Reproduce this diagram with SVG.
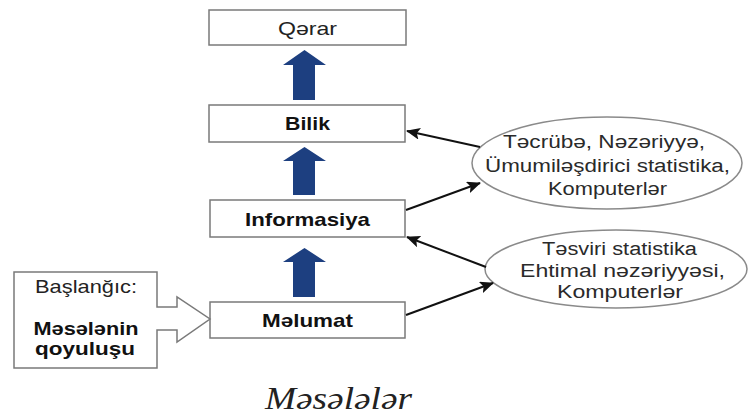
<svg xmlns="http://www.w3.org/2000/svg" width="749" height="417" viewBox="0 0 749 417">
<defs>
<style>
.box{fill:#fff;stroke:#7a7a7a;stroke-width:1.5}
.ell{fill:#fff;stroke:#8a8a8a;stroke-width:1.5}
.up{fill:#1d3f80}
.lbl{font-family:"Liberation Sans",Arial,sans-serif;font-size:19px;fill:#222;text-anchor:middle}
.b{font-weight:bold;fill:#111}
.t{font-family:"Liberation Sans",Arial,sans-serif;font-size:18px;fill:#2a2a2a;text-anchor:middle}
.conn{stroke:#111;stroke-width:2;fill:none;marker-end:url(#ah)}
</style>
<marker id="ah" markerUnits="userSpaceOnUse" markerWidth="14" markerHeight="12" refX="13" refY="6" orient="auto">
<path d="M0,0 L14,6 L0,12 L3,6 Z" fill="#111"/>
</marker>
</defs>
<g id="qerar">
<rect class="box" x="209" y="10" width="197" height="35"/>
<text class="lbl" x="307.5" y="35" textLength="59" lengthAdjust="spacingAndGlyphs">Qərar</text>
</g>
<g id="bilik">
<rect class="box" x="209" y="105" width="196" height="37"/>
<text class="lbl b" x="307.5" y="130" textLength="45" lengthAdjust="spacingAndGlyphs">Bilik</text>
</g>
<g id="informasiya">
<rect class="box" x="210" y="200" width="195" height="37"/>
<text class="lbl b" x="307.5" y="226" textLength="125" lengthAdjust="spacingAndGlyphs">Informasiya</text>
</g>
<g id="melumat">
<rect class="box" x="210" y="302" width="195" height="36"/>
<text class="lbl b" x="307.5" y="327" textLength="91" lengthAdjust="spacingAndGlyphs">Məlumat</text>
</g>
<g id="up-arrows">
<path class="up" d="M304.5,50 L326,65 L315,65 L315,100 L293,100 L293,65 L283,65 Z"/>
<path class="up" d="M304.5,147 L326,161 L315,161 L315,195 L293,195 L293,161 L283,161 Z"/>
<path class="up" d="M304.5,248 L326,262 L315,262 L315,297 L293,297 L293,262 L283,262 Z"/>
</g>
<g id="baslangic">
<path class="box" d="M14,272 L157,272 L157,307 L177,307 L177,297 L210,319 L177,342 L177,330 L157,330 L157,368 L14,368 Z"/>
<text class="lbl" x="86" y="293" textLength="102" lengthAdjust="spacingAndGlyphs">Başlanğıc:</text>
<text class="lbl b" x="86" y="335" textLength="105" lengthAdjust="spacingAndGlyphs">Məsələnin</text>
<text class="lbl b" x="85" y="355" textLength="100" lengthAdjust="spacingAndGlyphs">qoyuluşu</text>
</g>
<g id="ellipse1">
<ellipse class="ell" cx="607" cy="163" rx="135" ry="46"/>
<text class="t" x="604" y="148" textLength="202" lengthAdjust="spacingAndGlyphs">Təcrübə, Nəzəriyyə,</text>
<text class="t" x="607.5" y="172" textLength="245" lengthAdjust="spacingAndGlyphs">Ümumiləşdirici statistika,</text>
<text class="t" x="607.5" y="195" textLength="119" lengthAdjust="spacingAndGlyphs">Komputerlər</text>
</g>
<g id="ellipse2">
<ellipse class="ell" cx="616" cy="269" rx="131" ry="39"/>
<text class="t" x="619.5" y="255" textLength="155" lengthAdjust="spacingAndGlyphs">Təsviri statistika</text>
<text class="t" x="622.5" y="277" textLength="205" lengthAdjust="spacingAndGlyphs">Ehtimal nəzəriyyəsi,</text>
<text class="t" x="620" y="298" textLength="126" lengthAdjust="spacingAndGlyphs">Komputerlər</text>
</g>
<g id="connectors">
<line class="conn" x1="480" y1="147" x2="407" y2="131"/>
<line class="conn" x1="406" y1="210" x2="480" y2="183"/>
<line class="conn" x1="486" y1="267" x2="407" y2="237"/>
<line class="conn" x1="406" y1="315" x2="493" y2="283"/>
</g>
<text x="338.5" y="409" font-family="Liberation Serif,'Times New Roman',serif" font-style="italic" font-size="31" fill="#222" text-anchor="middle" textLength="147" lengthAdjust="spacingAndGlyphs">Məsələlər</text>
</svg>
